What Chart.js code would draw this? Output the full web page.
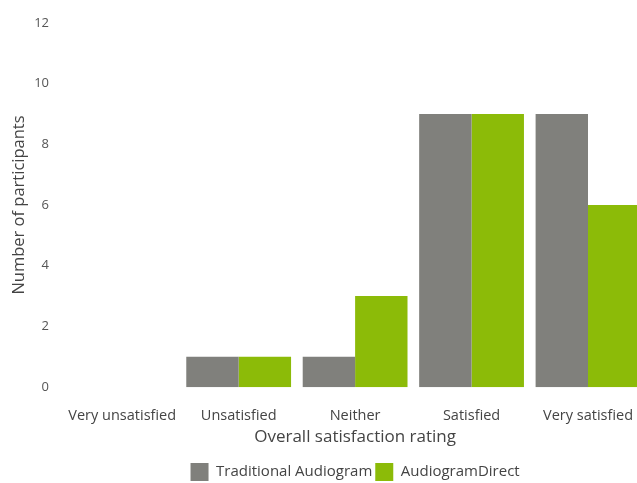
<!DOCTYPE html>
<html>
<head>
<meta charset="utf-8">
<script src="https://cdn.jsdelivr.net/npm/chart.js@4"></script>
<style>
  html, body { margin: 0; padding: 0; background: #fff; overflow: hidden; }
  #wrap { width: 653px; height: 483px; position: relative; }
</style>
</head>
<body>
<div id="wrap"><canvas id="satChart"></canvas></div>
<script>
// Satisfaction ratings per audiogram format
const ratings = ['Very unsatisfied', 'Unsatisfied', 'Neither', 'Satisfied', 'Very satisfied'];
const traditional = [0, 1, 1, 9, 9];
const audiogramDirect = [0, 1, 3, 9, 6];
const yTicks = [0, 2, 4, 6, 8, 10, 12];

const GREY = '#80807c';
const GREEN = '#8cbb08';
const FONT = '"Open Sans", sans-serif';

new Chart(document.getElementById('satChart'), {
    type: 'bar',
    data: {
        labels: ratings,
        datasets: [
            { label: 'Traditional Audiogram', data: traditional, backgroundColor: GREY },
            { label: 'AudiogramDirect', data: audiogramDirect, backgroundColor: GREEN }
        ]
    },
    options: {
        responsive: true, maintainAspectRatio: false, animation: false,
        datasets: { bar: { barPercentage: 1, categoryPercentage: 0.9 } },
        layout: { padding: { top: 8, right: 0, bottom: -8 } },
        plugins: {
            tooltip: { enabled: false },
            legend: {
                position: 'bottom', fullSize: false,
                labels: { color: '#444', font: { family: FONT, size: 15 }, boxWidth: 18, boxHeight: 18, padding: 3 }
            }
        },
        scales: {
            x: {
                grid: { display: false, drawTicks: false }, border: { display: false },
                ticks: { color: '#444', font: { family: FONT, size: 14.5 }, padding: 20 },
                title: { display: true, text: 'Overall satisfaction rating', color: '#444', font: { family: FONT, size: 17 }, padding: { top: -18, bottom: 13 } }
            },
            y: {
                min: 0, max: 12,
                afterBuildTicks: s => { s.ticks = yTicks.map(v => ({ value: v })); },
                afterFit: s => { s.width = 64; },
                grid: { display: false, drawTicks: false }, border: { display: false },
                ticks: { color: '#555', font: { family: FONT, size: 13 }, padding: 15 },
                title: { display: true, text: 'Number of participants', color: '#444', font: { family: FONT, size: 16.5 }, padding: { top: 9, bottom: 0 } }
            }
        }
    }
});
</script>
</body>
</html>
